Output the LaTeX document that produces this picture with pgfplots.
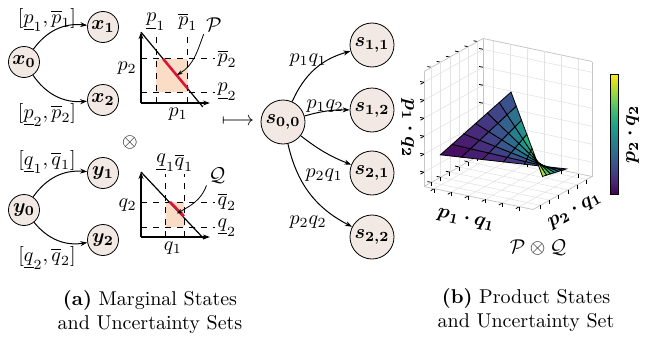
\documentclass[border=0pt]{standalone}
\usepackage{pgfplots}
\pgfplotsset{compat=1.18}
\usepgfplotslibrary{colormaps}
\usetikzlibrary{arrows.meta}
\usepackage{amsmath,bm}
\definecolor{nodefill}{RGB}{242,232,228}
\definecolor{peach}{RGB}{250,221,196}
\definecolor{segred}{RGB}{220,20,60}
\begin{document}
\begin{tikzpicture}
\path[use as bounding box] (0,0) rectangle (326pt,-174pt);
\begin{scope}[x=0.5pt,y=-0.5pt,
  xn/.style={circle,draw,fill=nodefill,minimum size=15.5pt,inner sep=0pt},
  sn/.style={circle,draw,fill=nodefill,minimum size=22pt,inner sep=0pt},
  arr/.style={-{Stealth[length=3.5pt,width=2.5pt]},line width=0.5pt}]
% marginal x
\node[xn] (x0) at (24,62) {$\bm{x_0}$};
\node[xn] (x1) at (103,27) {$\bm{x_1}$};
\node[xn] (x2) at (103,100) {$\bm{x_2}$};
\draw[arr] (x0) to[bend left=30] (x1);
\draw[arr] (x0) to[bend right=30] (x2);
\node at (47,20) {$[\underline{p}_1,\overline{p}_1]$};
\node at (47,115) {$[\underline{p}_2,\overline{p}_2]$};
% marginal y
\node[xn] (y0) at (24,210) {$\bm{y_0}$};
\node[xn] (y1) at (103,173) {$\bm{y_1}$};
\node[xn] (y2) at (103,240) {$\bm{y_2}$};
\draw[arr] (y0) to[bend left=30] (y1);
\draw[arr] (y0) to[bend right=30] (y2);
\node at (47,162) {$[\underline{q}_1,\overline{q}_1]$};
\node at (47,258) {$[\underline{q}_2,\overline{q}_2]$};
\node at (130,142) {$\otimes$};
\node at (238,122) {$\longmapsto$};
% product states
\node[sn] (s00) at (283,122) {$\bm{s_{0,0}}$};
\node[sn] (s11) at (372,45) {$\bm{s_{1,1}}$};
\node[sn] (s12) at (372,110) {$\bm{s_{1,2}}$};
\node[sn] (s21) at (372,173) {$\bm{s_{2,1}}$};
\node[sn] (s22) at (372,237) {$\bm{s_{2,2}}$};
\draw[arr] (s00) to[bend left=25] (s11);
\draw[arr] (s00) to[bend left=8] (s12);
\draw[arr] (s00) to[bend right=8] (s21);
\draw[arr] (s00) to[bend right=25] (s22);
\node at (308,60) {$p_1q_1$};
\node at (325,106) {$p_1q_2$};
\node at (324,175) {$p_2q_1$};
\node at (308,222) {$p_2q_2$};
% 3D axis labels
\node[rotate=-12] at (466,220) {$\bm{p_1\cdot q_1}$};
\node[rotate=29] at (575,211) {$\bm{p_2\cdot q_1}$};
\node[rotate=-90] at (408,128) {$\bm{p_1\cdot q_2}$};
\node at (538,248) {$\mathcal{P}\otimes\mathcal{Q}$};
% captions
\node[anchor=base] at (150,305) {\textbf{(a)} Marginal States};
\node[anchor=base] at (150,329) {and Uncertainty Sets};
\node[anchor=base] at (526,303) {\textbf{(b)} Product States};
\node[anchor=base] at (526,327) {and Uncertainty Set};
\end{scope}
% small chart P
\begin{axis}[at={(70.5pt,-51.5pt)},anchor=origin,x=32.5pt,y=32.5pt,
  xmin=0,xmax=1.06,ymin=0,ymax=1.09,axis lines=left,
  axis line style={-{Stealth[length=3.5pt,width=2.5pt]},line width=0.6pt},
  xtick=\empty,ytick=\empty,clip=false]
\addplot[draw=none,fill=peach] coordinates {(0.23,0.17) (0.72,0.17) (0.72,0.68) (0.23,0.68)} --cycle;
\addplot[dashed,line width=0.4pt] coordinates {(0.23,0) (0.23,1.08)};
\addplot[dashed,line width=0.4pt] coordinates {(0.72,0) (0.72,1.08)};
\addplot[dashed,line width=0.4pt] coordinates {(0,0.68) (1.14,0.68)};
\addplot[dashed,line width=0.4pt] coordinates {(0,0.17) (1.14,0.17)};
\addplot[black,line width=0.6pt] coordinates {(0,1.09) (0.95,-0.06)};
\addplot[segred,line width=1.3pt] coordinates {(0.34,0.68) (0.72,0.22)};
\node[anchor=south,inner sep=1pt] at (axis cs:0.23,1.08) {$\underline{p}_1$};
\node[anchor=south,inner sep=1pt] at (axis cs:0.72,1.08) {$\overline{p}_1$};
\node[anchor=west,inner sep=1pt] at (axis cs:1.14,0.68) {$\overline{p}_2$};
\node[anchor=west,inner sep=1pt] at (axis cs:1.14,0.17) {$\underline{p}_2$};
\node[anchor=east,inner sep=2pt] at (axis cs:0,0.54) {$p_2$};
\node[anchor=north,inner sep=2pt] at (axis cs:0.57,0) {$p_1$};
\node[inner sep=1pt] (P) at (axis cs:1.12,1.2) {$\mathcal{P}$};
\draw[-{Stealth[length=3pt,width=2pt]},line width=0.4pt] (P.south west) to[out=250,in=30] (axis cs:0.55,0.43);
\end{axis}
% small chart Q
\begin{axis}[at={(70.5pt,-118.5pt)},anchor=origin,x=32.5pt,y=32.5pt,
  xmin=0,xmax=1.06,ymin=0,ymax=1.0,axis lines=left,
  axis line style={-{Stealth[length=3.5pt,width=2.5pt]},line width=0.6pt},
  xtick=\empty,ytick=\empty,clip=false]
\addplot[draw=none,fill=peach] coordinates {(0.38,0.15) (0.66,0.15) (0.66,0.54) (0.38,0.54)} --cycle;
\addplot[dashed,line width=0.4pt] coordinates {(0.38,0) (0.38,0.97)};
\addplot[dashed,line width=0.4pt] coordinates {(0.66,0) (0.66,0.97)};
\addplot[dashed,line width=0.4pt] coordinates {(0,0.54) (1.14,0.54)};
\addplot[dashed,line width=0.4pt] coordinates {(0,0.15) (1.14,0.15)};
\addplot[black,line width=0.6pt] coordinates {(0,1.0) (0.97,-0.03)};
\addplot[segred,line width=1.3pt] coordinates {(0.446,0.54) (0.66,0.32)};
\node[anchor=south,inner sep=1pt] at (axis cs:0.38,0.97) {$\underline{q}_1$};
\node[anchor=south,inner sep=1pt] at (axis cs:0.66,0.97) {$\overline{q}_1$};
\node[anchor=west,inner sep=1pt] at (axis cs:1.14,0.54) {$\overline{q}_2$};
\node[anchor=west,inner sep=1pt] at (axis cs:1.14,0.15) {$\underline{q}_2$};
\node[anchor=east,inner sep=2pt] at (axis cs:0,0.49) {$q_2$};
\node[anchor=north,inner sep=2pt] at (axis cs:0.49,0) {$q_1$};
\node[inner sep=1pt] (Q) at (axis cs:1.17,0.95) {$\mathcal{Q}$};
\draw[-{Stealth[length=3pt,width=2pt]},line width=0.4pt] (Q.south west) to[out=250,in=30] (axis cs:0.55,0.36);
\end{axis}
% 3D product set
\begin{axis}[at={(254pt,-62pt)},anchor=center,
  x={(85.16pt,-17.97pt)},y={(46.09pt,25.78pt)},z={(0pt,89.84pt)},x dir=reverse,
  xmin=0.02,xmax=0.66,ymin=0.02,ymax=0.66,zmin=0.02,zmax=0.66,
  xtick={0.1,0.2,0.3,0.4,0.5,0.6},ytick={0.1,0.2,0.3,0.4,0.5,0.6},ztick={0.1,0.2,0.3,0.4,0.5,0.6},
  xticklabels={,,,,,},yticklabels={,,,,,},zticklabels={,,,,,},
  tick pos=left,tick align=outside,major tick length=2pt,
  grid=major,major grid style={gray!22,line width=0.3pt},
  axis line style={gray!45,line width=0.4pt},tick style={black,line width=0.4pt},
  colormap/viridis,colorbar,
  colorbar style={at={(1.11,0.44)},anchor=west,width=4pt,height=60pt,ytick=\empty,
    axis line style={black,line width=0.6pt},
    ylabel={$\bm{p_2\cdot q_2}$}},
  z buffer=sort]
\addplot3[surf,shader=faceted,faceted color=black,line width=0.4pt,mesh/rows=7,mesh/cols=7,point meta=explicit]
 table[x=x,y=y,z=z,meta=c,row sep=\\] {
x y z c\\
0.04 0.16 0.16 0.64\\
0.06 0.14 0.24 0.56\\
0.08 0.12 0.32 0.48\\
0.10 0.10 0.40 0.40\\
0.12 0.08 0.48 0.32\\
0.14 0.06 0.56 0.24\\
0.16 0.04 0.64 0.16\\
0.06 0.24 0.14 0.56\\
0.09 0.21 0.21 0.49\\
0.12 0.18 0.28 0.42\\
0.15 0.15 0.35 0.35\\
0.18 0.12 0.42 0.28\\
0.21 0.09 0.49 0.21\\
0.24 0.06 0.56 0.14\\
0.08 0.32 0.12 0.48\\
0.12 0.28 0.18 0.42\\
0.16 0.24 0.24 0.36\\
0.20 0.20 0.30 0.30\\
0.24 0.16 0.36 0.24\\
0.28 0.12 0.42 0.18\\
0.32 0.08 0.48 0.12\\
0.10 0.40 0.10 0.40\\
0.15 0.35 0.15 0.35\\
0.20 0.30 0.20 0.30\\
0.25 0.25 0.25 0.25\\
0.30 0.20 0.30 0.20\\
0.35 0.15 0.35 0.15\\
0.40 0.10 0.40 0.10\\
0.12 0.48 0.08 0.32\\
0.18 0.42 0.12 0.28\\
0.24 0.36 0.16 0.24\\
0.30 0.30 0.20 0.20\\
0.36 0.24 0.24 0.16\\
0.42 0.18 0.28 0.12\\
0.48 0.12 0.32 0.08\\
0.14 0.56 0.06 0.24\\
0.21 0.49 0.09 0.21\\
0.28 0.42 0.12 0.18\\
0.35 0.35 0.15 0.15\\
0.42 0.28 0.18 0.12\\
0.49 0.21 0.21 0.09\\
0.56 0.14 0.24 0.06\\
0.16 0.64 0.04 0.16\\
0.24 0.56 0.06 0.14\\
0.32 0.48 0.08 0.12\\
0.40 0.40 0.10 0.10\\
0.48 0.32 0.12 0.08\\
0.56 0.24 0.14 0.06\\
0.64 0.16 0.16 0.04\\
};
\end{axis}
\end{tikzpicture}
\end{document}
